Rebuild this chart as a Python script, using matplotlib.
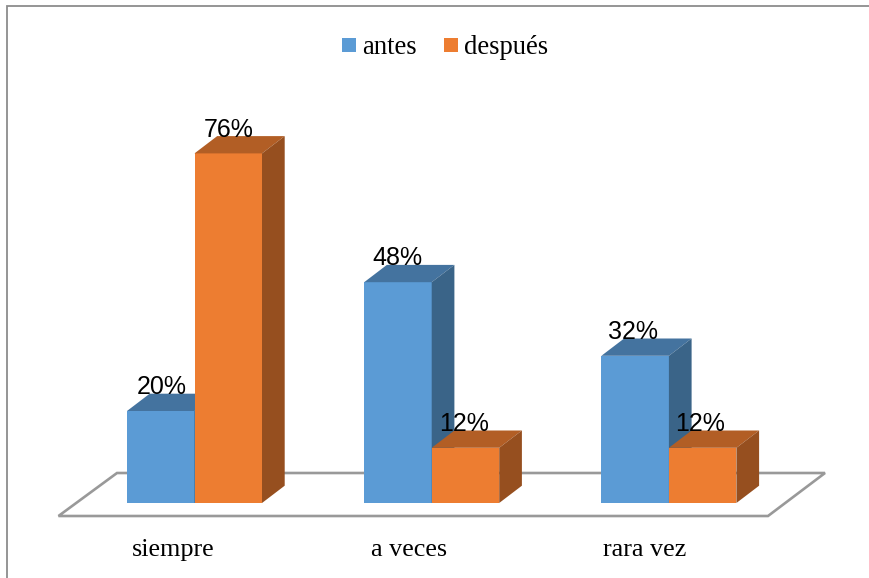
import matplotlib
matplotlib.use("Agg")
import matplotlib.pyplot as plt
from matplotlib.patches import Polygon, Rectangle

# datos del grafico
categorias = ['siempre', 'a veces', 'rara vez']
antes = [20, 48, 32]
despues = [76, 12, 12]
series = ['antes', 'después']

W, H = 869, 578
x0_px, y0_px = 194.5, 503      # origen: primera categoria, base de las barras
px_x, px_y = 237.2, 4.6        # pixeles por categoria / por punto de %

ancho = 67.5 / px_x
prof_x = 22.7 / px_x
prof_y = 17.3 / px_y
paso_txt = 235.6 / px_x        # los textos van un poco mas juntos que las barras

azul = ('#5b9bd5', '#44739f', '#3a6488')
naranja = ('#ed7d31', '#b25e25', '#964f1f')


def barra(x, v, colores, zorder):
    # cara frontal, tapa y lateral de la barra en falso 3d
    frente, tapa, lado = colores
    ax.bar(x, v, ancho, align='edge', color=frente, zorder=zorder)
    ax.add_patch(Polygon([(x, v), (x + prof_x, v + prof_y), (x + ancho + prof_x, v + prof_y), (x + ancho, v)],
                         color=tapa, lw=0, zorder=zorder))
    ax.add_patch(Polygon([(x + ancho, 0), (x + ancho + prof_x, prof_y), (x + ancho + prof_x, v + prof_y), (x + ancho, v)],
                         color=lado, lw=0, zorder=zorder))


fig = plt.figure(figsize=(W / 100, H / 100), dpi=100)
ax = fig.add_axes([0, 0, 1, 1])
ax.set_xlim(-x0_px / px_x, (W - x0_px) / px_x)
ax.set_ylim(-(H - y0_px) / px_y, y0_px / px_y)
ax.axis('off')

# marco del grafico (solo izquierda y arriba)
ax.plot([(7 - x0_px) / px_x, (7 - x0_px) / px_x, (W - x0_px) / px_x],
        [-(H - y0_px) / px_y, (y0_px - 6.5) / px_y, (y0_px - 6.5) / px_y],
        color='#8c8c8c', lw=1.3, zorder=1, solid_joinstyle='miter')

# suelo
suelo_x = [(v - x0_px) / px_x for v in (58.5, 117, 825, 768)]
suelo_y = [(y0_px - v) / px_y for v in (516, 473, 473, 516)]
ax.add_patch(Polygon(list(zip(suelo_x, suelo_y)), closed=True, fill=False, ec='#999999', lw=1.9, zorder=2))

for i in range(len(categorias)):
    barra(i - ancho, antes[i], azul, 3)
    barra(i, despues[i], naranja, 4)
    ax.text(i * paso_txt - ancho + 0.145, antes[i] + prof_y - 0.1, f'{antes[i]}%', ha='center', va='baseline',
            family='Liberation Sans', fontsize=18, color='black', zorder=5)
    ax.text(i * paso_txt + 0.145, despues[i] + prof_y - 0.1, f'{despues[i]}%', ha='center', va='baseline',
            family='Liberation Sans', fontsize=18, color='black', zorder=5)
    ax.text(i * paso_txt - 0.088, -(556 - y0_px) / px_y, categorias[i], ha='center', va='baseline',
            family='Liberation Serif', fontsize=18.8, color='black')

# leyenda
for xpx, ancho_ley, nombre, col in zip((342, 444), (14, 14), series, (azul[0], naranja[0])):
    ax.add_patch(Rectangle(((xpx - x0_px) / px_x, (y0_px - 52) / px_y), ancho_ley / px_x, 14 / px_y,
                           color=col, lw=0))
    ax.text((xpx + 20 - x0_px) / px_x, (y0_px - 54) / px_y, nombre, ha='left', va='baseline',
            family='Liberation Serif', fontsize=19.2, color='black')

fig.savefig('out.png', dpi=100)
